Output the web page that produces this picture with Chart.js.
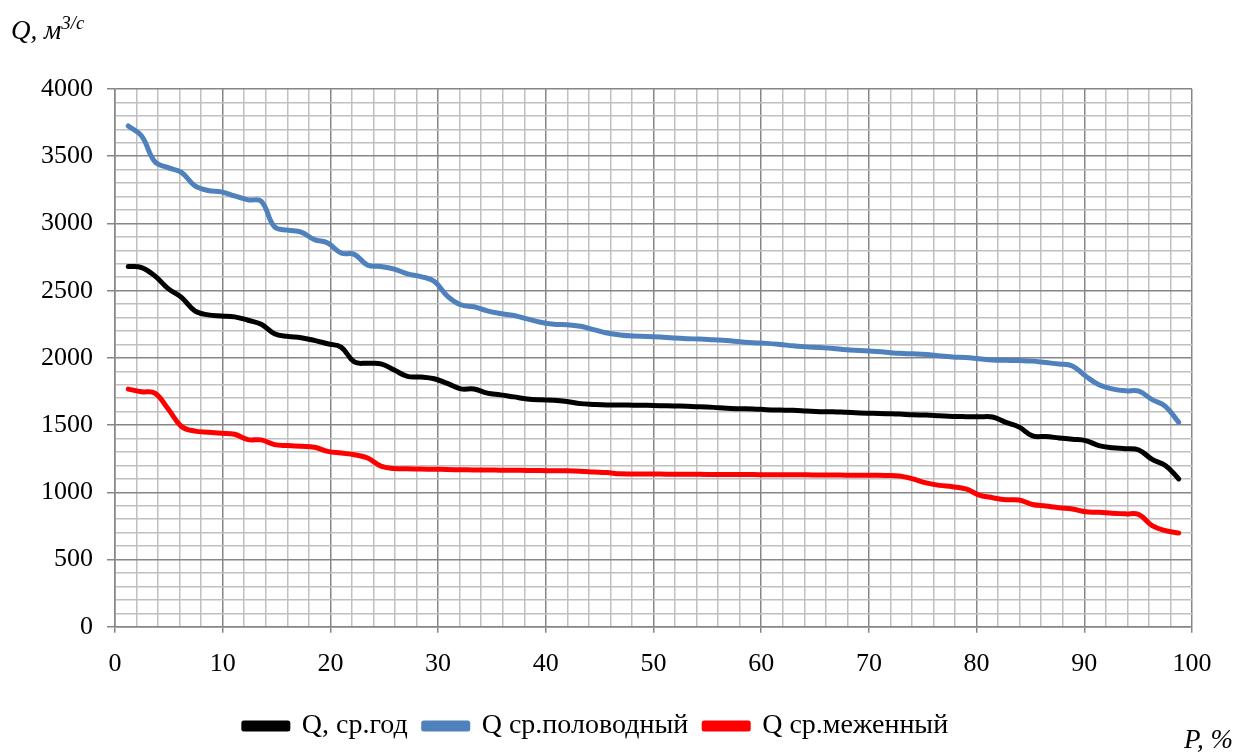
<!DOCTYPE html>
<html lang="ru">
<head>
    <meta charset="UTF-8">
    <title>Кривые обеспеченности</title>
    <style>
        html, body { margin: 0; padding: 0; background: #fff; }
        .wrap { position: relative; width: 1245px; height: 756px; }
        .axis-title {
            position: absolute;
            font-family: "Liberation Serif", "Times New Roman", serif;
            font-style: italic;
            font-size: 27px;
            color: #000;
            white-space: nowrap;
        }
        .axis-title sup { font-size: 19px; }
    </style>
</head>
<body>
    <div class="wrap">
        <canvas id="chart" width="1245" height="756"></canvas>
        <div class="axis-title" style="left:11px; top:12px;">Q, м<sup>3/c</sup></div>
        <div class="axis-title" style="left:1184px; top:724px;">P, %</div>
    </div>
    <script src="https://cdn.jsdelivr.net/npm/chart.js"></script>
    <script>
        // обеспеченность P, %
        const pValues = [
            1.23, 2.47, 3.70, 4.94, 6.17, 7.41, 8.64, 9.88, 11.11, 12.35,
            13.58, 14.81, 16.05, 17.28, 18.52, 19.75, 20.99, 22.22, 23.46, 24.69,
            25.93, 27.16, 28.40, 29.63, 30.86, 32.10, 33.33, 34.57, 35.80, 37.04,
            38.27, 39.51, 40.74, 41.98, 43.21, 44.44, 45.68, 46.91, 48.15, 49.38,
            50.62, 51.85, 53.09, 54.32, 55.56, 56.79, 58.02, 59.26, 60.49, 61.73,
            62.96, 64.20, 65.43, 66.67, 67.90, 69.14, 70.37, 71.60, 72.84, 74.07,
            75.31, 76.54, 77.78, 79.01, 80.25, 81.48, 82.72, 83.95, 85.19, 86.42,
            87.65, 88.89, 90.12, 91.36, 92.59, 93.83, 95.06, 96.30, 97.53, 98.77
        ];

        const qYear = [
            2680, 2672, 2610, 2515, 2450, 2350, 2320, 2312, 2305, 2280,
            2250, 2180, 2160, 2150, 2130, 2105, 2080, 1970, 1960, 1955,
            1910, 1862, 1858, 1845, 1810, 1770, 1768, 1738, 1725, 1710,
            1695, 1688, 1685, 1675, 1660, 1654, 1650, 1650, 1648, 1647,
            1645, 1643, 1640, 1637, 1632, 1625, 1622, 1620, 1615, 1612,
            1610, 1605, 1600, 1600, 1595, 1590, 1588, 1585, 1582, 1577,
            1575, 1570, 1565, 1563, 1562, 1560, 1520, 1485, 1420, 1415,
            1405, 1395, 1385, 1348, 1332, 1325, 1315, 1245, 1200, 1100
        ];

        const qFlood = [
            3725, 3650, 3460, 3415, 3380, 3280, 3245, 3235, 3205, 3175,
            3165, 2975, 2950, 2935, 2880, 2855, 2780, 2770, 2690, 2680,
            2660, 2625, 2605, 2570, 2460, 2395, 2380, 2350, 2330, 2315,
            2290, 2265, 2250, 2247, 2235, 2210, 2185, 2170, 2162, 2160,
            2155, 2148, 2143, 2140, 2135, 2130, 2120, 2112, 2108, 2100,
            2090, 2082, 2078, 2070, 2060, 2055, 2050, 2042, 2034, 2030,
            2025, 2015, 2007, 2003, 1993, 1984, 1982, 1980, 1976, 1965,
            1955, 1940, 1865, 1800, 1770, 1755, 1752, 1690, 1640, 1520
        ];

        const qLow = [
            1768, 1748, 1738, 1620, 1490, 1455, 1447, 1440, 1432, 1392,
            1390, 1355, 1348, 1342, 1335, 1305, 1292, 1280, 1255, 1195,
            1178, 1175, 1173, 1172, 1170, 1168, 1167, 1166, 1165, 1164,
            1163, 1162, 1161, 1160, 1157, 1152, 1147, 1138, 1137, 1137,
            1136, 1135, 1135, 1134, 1133, 1133, 1132, 1132, 1131, 1131,
            1130, 1130, 1129, 1129, 1128, 1128, 1127, 1126, 1122, 1100,
            1070, 1052, 1042, 1025, 980, 960, 945, 943, 910, 898,
            885, 876, 855, 852, 845, 840, 835, 752, 715, 697
        ];

        const seriesNames = ['Q, ср.год', 'Q ср.половодный', 'Q ср.меженный'];

        function toPoints(values) {
            return values.map((v, i) => ({ x: pValues[i], y: v }));
        }

        function makeSet(label, values, color) {
            return {
                label: label,
                data: toPoints(values),
                borderColor: color,
                backgroundColor: color,
                borderWidth: 5,
                pointRadius: 0,
                tension: 0.4,
                borderCapStyle: 'round',
                borderJoinStyle: 'round'
            };
        }

        const serif = '"Liberation Serif", "Times New Roman", serif';
        const tickFont = { family: serif, size: 26 };
        const legendFont = { family: serif, size: 28 };
        const majorGrid = '#868686';
        const minorGrid = '#c0c0c0';

        new Chart(document.getElementById('chart').getContext('2d'), {
            type: 'line',
            data: {
                datasets: [
                    makeSet(seriesNames[0], qYear, '#000000'),
                    makeSet(seriesNames[1], qFlood, '#4f81bd'),
                    makeSet(seriesNames[2], qLow, '#ff0000')
                ]
            },
            options: {
                responsive: false,
                animation: false,
                layout: { padding: { left: 0, right: 53, top: 89, bottom: 6 } },
                plugins: {
                    tooltip: { enabled: false },
                    legend: {
                        position: 'bottom',
                        labels: {
                            font: legendFont,
                            color: '#000',
                            boxWidth: 44,
                            boxHeight: 6,
                            padding: 16
                        }
                    }
                },
                scales: {
                    x: {
                        type: 'linear',
                        min: 0,
                        max: 100,
                        ticks: {
                            stepSize: 2,
                            autoSkip: false,
                            maxRotation: 0,
                            font: tickFont,
                            color: '#000',
                            padding: 16,
                            callback: v => (v % 10 === 0 ? v : '')
                        },
                        grid: {
                            color: c => (c.tick && c.tick.value % 10 === 0 ? majorGrid : minorGrid),
                            tickColor: c => (c.tick && c.tick.value % 10 === 0 ? majorGrid : 'rgba(0,0,0,0)'),
                            lineWidth: 1.5,
                            tickLength: 6
                        },
                        border: { color: majorGrid, width: 1.5 }
                    },
                    y: {
                        min: 0,
                        max: 4000,
                        afterFit: s => { s.width = 115; },
                        ticks: {
                            stepSize: 100,
                            autoSkip: false,
                            font: tickFont,
                            color: '#000',
                            padding: 14,
                            callback: v => (v % 500 === 0 ? v : '')
                        },
                        grid: {
                            color: c => (c.tick && c.tick.value % 500 === 0 ? majorGrid : minorGrid),
                            tickColor: c => (c.tick && c.tick.value % 500 === 0 ? majorGrid : 'rgba(0,0,0,0)'),
                            lineWidth: 1.5,
                            tickLength: 8
                        },
                        border: { color: majorGrid, width: 1.5 }
                    }
                }
            }
        });
    </script>
</body>
</html>
